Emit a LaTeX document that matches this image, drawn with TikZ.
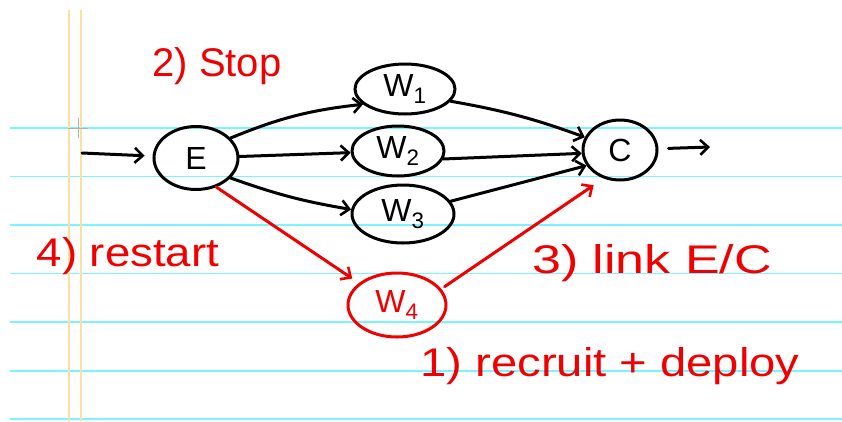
\documentclass[tikz,border=0pt]{standalone}
\usepackage{fontspec}
\setmainfont{Liberation Sans}
\usetikzlibrary{shapes.geometric,arrows.meta}
\definecolor{rule}{RGB}{120,245,255}
\definecolor{margin}{RGB}{250,225,160}
\definecolor{pen}{RGB}{240,0,0}
\tikzset{
  state/.style={ellipse,draw=black,line width=3pt,inner sep=0pt,font=\fontsize{32}{36}\selectfont},
  redstate/.style={state,draw=pen,text=pen},
  flow/.style={draw=black,line width=3pt,-{Straight Barb[length=8pt,width=15pt,line width=2.6pt]},line cap=round},
  redflow/.style={flow,draw=pen},
  note/.style={text=pen,font=\fontsize{40}{46}\selectfont,inner sep=0pt}
}
\begin{document}
\begin{tikzpicture}[x=1pt,y=-1pt]
\useasboundingbox (0,0) rectangle (842,421);
\fill[white] (0,0) rectangle (842,421);
% ruled paper
\foreach \yy in {128,176.5,225,273.5,322,371,419}
  \draw[rule,line width=1.4pt] (10,\yy) -- (842,\yy);
\draw[margin,line width=1.5pt] (69,10) -- (69,421);
\draw[margin,line width=1.5pt] (81,10) -- (81,421);
\draw[gray!60,line width=0.8pt] (78,118) -- (78,138) (68,128) -- (88,128);
% nodes
\node[state,minimum width=84pt,minimum height=63pt] (E) at (196,158) {E};
\node[state,minimum width=100pt,minimum height=50pt] (W1) at (405,89) {W\textsubscript{1}};
\node[state,minimum width=92pt,minimum height=50pt] (W2) at (398,151) {W\textsubscript{2}};
\node[state,minimum width=102pt,minimum height=58pt] (W3) at (403,214) {W\textsubscript{3}};
\node[state,minimum width=74pt,minimum height=60pt] (C) at (620,150) {C};
\node[redstate,minimum width=98pt,minimum height=64pt] (W4) at (397,305) {W\textsubscript{4}};
\coordinate (in) at (82,153);
\coordinate (out) at (710,147);
% connectors
\draw[flow,shorten >=8pt] (in) -- (E);
\draw[flow,shorten <=10pt] (C) -- (out);
\draw[flow] (E.30) to[bend left=8] (W1.200);
\draw[flow] (E) -- (W2);
\draw[flow] (E.-30) to[bend right=5] (W3.175);
\draw[flow] (W1.-15) to[bend left=5] (C.160);
\draw[flow] (W2.-10) -- (C.185);
\draw[flow] (W3.15) -- (C.205);
\draw[redflow,shorten >=8pt] (E.-55) -- (W4.150);
\draw[redflow,shorten >=12pt,shorten <=4pt] (W4.20) -- (C.-120);
% notes
\node[note] (n2) at (217,66) {2) Stop};
\node[note] (n4) at (128,256) {\scalebox{1.14}[1]{4) restart}};
\node[note] (n3) at (652,263) {\scalebox{1.3}[1]{3) link E/C}};
\node[note] (n1) at (610,366) {\scalebox{1.18}[1]{1) recruit + deploy}};
\end{tikzpicture}
\end{document}
